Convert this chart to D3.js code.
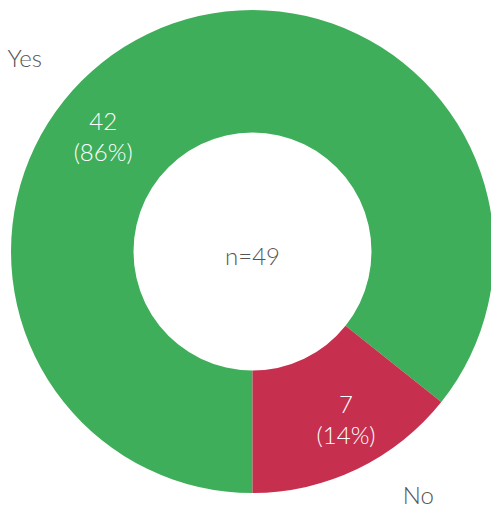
<!DOCTYPE html>
<html>
<head>
<meta charset="utf-8">
<script src="https://cdn.jsdelivr.net/npm/d3@7"></script>
<style>
  html, body { margin: 0; padding: 0; background: #fff; overflow: hidden; }
  svg text { font-family: "Lato", "Open Sans", sans-serif; font-weight: 300; }
</style>
</head>
<body>
<svg id="chart" width="491" height="506"></svg>
<script>
// Survey answers
const categories = ["Yes", "No"];
const counts = [42, 7];
const percentLabels = ["86%", "14%"];
const totalLabel = "n=49";

const colors = ["#3fae5a", "#c72f4e"];

// Layout
const width = 491, height = 506;
const cx = 252.5, cy = 251.5;
const outerR = 241.5, innerR = 119;
// where each slice's labels sit (degrees clockwise from 12 o'clock)
const valueLabelAngle = [-52.6, 151];
const valueLabelRadius = [188, 193];
const nameLabelAngle = [-49.7, 145.8];
const nameLabelRadius = [298.5, 295];

const svg = d3.select("#chart");
const g = svg.append("g").attr("transform", `translate(${cx},${cy})`);

const pie = d3.pie()
  .sort(null)
  .startAngle(Math.PI)
  .endAngle(3 * Math.PI)
  .value(d => d);

const arcs = pie(counts);
const arc = d3.arc().innerRadius(innerR).outerRadius(outerR);

g.selectAll("path.slice")
  .data(arcs)
  .join("path")
  .attr("class", "slice")
  .attr("d", arc)
  .attr("fill", (d, i) => colors[i]);

const polar = (deg, r) => {
  const a = deg * Math.PI / 180;
  return [r * Math.sin(a), -r * Math.cos(a)];
};

// value + percentage labels inside the ring
const vl = g.selectAll("text.value")
  .data(arcs)
  .join("text")
  .attr("class", "value")
  .attr("text-anchor", "middle")
  .attr("fill", "#fff")
  .attr("font-size", 24)
  .attr("transform", (d, i) => {
    const [x, y] = polar(valueLabelAngle[i], valueLabelRadius[i]);
    return `translate(${x},${y})`;
  });
vl.append("tspan").attr("x", 0).attr("y", -7).text(d => d.value);
vl.append("tspan").attr("x", 0).attr("y", 24).text((d, i) => `(${percentLabels[i]})`);

// category names outside the ring
g.selectAll("text.name")
  .data(categories)
  .join("text")
  .attr("class", "name")
  .attr("text-anchor", "middle")
  .attr("fill", "#555")
  .attr("font-size", 24)
  .attr("transform", (d, i) => {
    const [x, y] = polar(nameLabelAngle[i], nameLabelRadius[i]);
    return `translate(${x},${y + 9})`;
  })
  .text(d => d);

// total in the hole
g.append("text")
  .attr("text-anchor", "middle")
  .attr("fill", "#555")
  .attr("font-size", 24)
  .attr("y", 13.5)
  .text(totalLabel);
</script>
</body>
</html>
